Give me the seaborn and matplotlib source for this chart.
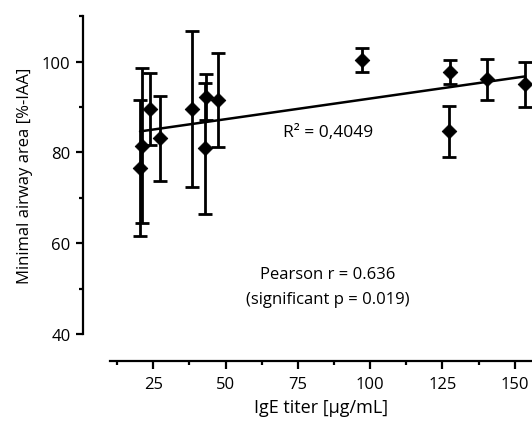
import matplotlib
matplotlib.use("Agg")
import matplotlib.pyplot as plt
import seaborn as sns
import numpy as np
import pandas as pd
from matplotlib.ticker import MultipleLocator

ige_titer = [20.4, 21.0, 23.7, 27.3, 38.5, 42.9, 43.3, 47.2, 97.2, 127.6, 127.3, 140.6, 153.6]
airway_area = [76.6, 81.5, 89.6, 83.1, 89.6, 80.9, 92.2, 91.6, 100.4, 97.7, 84.7, 96.1, 95.0]
airway_err = [15.0, 17.0, 8.0, 9.4, 17.2, 14.4, 5.0, 10.3, 2.6, 2.6, 5.6, 4.6, 5.0]
x_ticks = [25, 50, 75, 100, 125, 150]
y_ticks = [40, 60, 80, 100]

df = pd.DataFrame({"x": ige_titer, "y": airway_area, "e": airway_err})

sns.set_style("ticks")
plt.rcParams['font.family'] = ['Open Sans', 'DejaVu Sans']
plt.rcParams['text.color'] = 'black'
plt.rcParams['axes.labelcolor'] = 'black'
plt.rcParams['xtick.color'] = 'black'
plt.rcParams['ytick.color'] = 'black'

fig = plt.figure(figsize=(5.32, 4.27), dpi=100)
ax = fig.add_axes([110/532, (427-335)/427, 422/532, (335-17.3)/427])

ax.errorbar(df["x"], df["y"], yerr=df["e"], fmt="none", ecolor="black",
            elinewidth=2.0, capsize=5, capthick=2.0, clip_on=False, zorder=2)
sns.regplot(data=df, x="x", y="y", scatter=False, ci=None, ax=ax,
            line_kws=dict(color="black", lw=1.8, zorder=3))
sns.scatterplot(data=df, x="x", y="y", marker="D", s=55, color="black",
                edgecolor="black", ax=ax, zorder=4, clip_on=False)

ax.set_xlim(10, 156)
ax.set_ylim(40, 110)
ax.set_xticks(x_ticks)
ax.set_yticks(y_ticks)
ax.xaxis.set_minor_locator(MultipleLocator(12.5))
ax.yaxis.set_minor_locator(MultipleLocator(10))

ax.spines["right"].set_visible(False)
ax.spines["top"].set_visible(False)
ax.spines["left"].set_position(("outward", 19.5))
ax.spines["bottom"].set_position(("outward", 19.5))
for s in ["left", "bottom"]:
    ax.spines[s].set_linewidth(1.6)
    ax.spines[s].set_color("black")

ax.tick_params(axis="both", which="major", length=5, width=1.6, labelsize=12, color="black", labelcolor="black")
ax.tick_params(axis="both", which="minor", length=3, width=1.6, color="black")
ax.tick_params(axis="x", which="major", length=6, pad=5)
ax.tick_params(axis="y", which="major", pad=4)

ax.set_xlabel("IgE titer [µg/mL]", fontsize=13, labelpad=4, color="black")
ax.set_ylabel("Minimal airway area [%-IAA]", fontsize=12, labelpad=6, color="black")

ax.text(70, 84.5, "R² = 0,4049", ha="left", va="center", fontsize=12.5, color="black")
ax.text(85.2, 53.2, "Pearson r = 0.636", ha="center", va="center", fontsize=12, color="black")
ax.text(85.2, 47.7, "(significant p = 0.019)", ha="center", va="center", fontsize=12, color="black")

fig.savefig("out.png", dpi=100)
